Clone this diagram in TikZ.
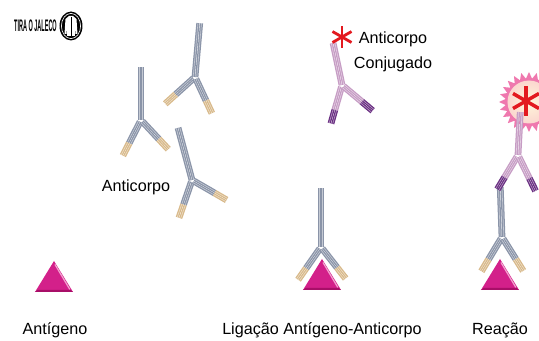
\documentclass[tikz,border=0pt]{standalone}
\usepackage{fontspec}
\setmainfont{Liberation Sans}
\usepackage{graphicx}

\definecolor{abgrey}{HTML}{8A94A8}
\definecolor{abtan}{HTML}{D8B98A}
\definecolor{abpink}{HTML}{C69CC4}
\definecolor{abpurple}{HTML}{6A2F82}
\definecolor{agmagenta}{HTML}{D3208A}
\definecolor{agdark}{HTML}{A80F68}
\definecolor{aglight}{HTML}{F2A3CF}
\definecolor{burstpink}{HTML}{EF78AE}
\definecolor{burstcore}{HTML}{FFF6DA}
\definecolor{markred}{HTML}{E3191F}

\tikzset{
  chain/.style={line width=1.8pt, draw=#1,
    postaction={draw=white, draw opacity=.5, line width=.35pt}},
  labeltext/.style={font=\fontsize{9.2}{14.7}\selectfont, inner sep=0pt},
  % stem length, left and right arm angles, body and tip colours
  pics/antibody/.style n args={5}{code={
    \foreach \s in {-1.8,1.8}
      \draw[chain=#4] (\s,0) -- (\s,-#1);
    \foreach \a in {-#2,#3}
      \foreach \s in {-1.8,1.8} {
        \draw[chain=#4, rotate=\a] (\s,2) -- (\s,26);
        \draw[chain=#5, rotate=\a] (\s,26) -- (\s,40);
      }
  }},
  pics/antigen/.style={code={
    \fill[agmagenta] (-19,0) -- (0,-31) -- (19,0) -- cycle;
    \fill[agdark] (-19,0) -- (19,0) -- (16.5,-2) -- (-16.5,-2) -- cycle;
    \draw[aglight, line width=.7pt] (1,-27.5) -- (15.8,-2.6);
  }},
  pics/asterisk/.style 2 args={code={
    \foreach \a in {90,150,210}
      \draw[markred, line width=#2] (\a:#1) -- (\a+180:#1);
  }},
}

\begin{document}
\begin{tikzpicture}[x=0.02cm, y=-0.02cm]
\useasboundingbox (0,0) rectangle (539,341);

%LOGO
  \node (logo) at (35.5,32) [anchor=base, inner sep=0pt,
    font=\fontsize{9.5}{10}\selectfont\bfseries] {\scalebox{0.33}[1]{TIRA O JALECO}};
  \fill (71,26) ellipse [x radius=11.5, y radius=14.5];
  \draw[white, line width=.35pt] (71,26) ellipse [x radius=9.6, y radius=12.6];
  \fill[white] (69,16) -- (73,16) -- (76.5,19) -- (77.5,34) -- (75.5,34) -- (74.8,25)
    -- (74.8,36) -- (67.2,36) -- (67.2,25) -- (66.5,34) -- (64.5,34) -- (65.5,19) -- cycle;
  \draw[line width=.3pt] (71,17) -- (71,36);

%ANTIGENO
  \pic at (54,292) {antigen};
  \node (antigeno) at (55,335) [labeltext, anchor=base] {Antígeno};

%ANTICORPOS
  \pic at (141,120) {antibody={53}{27}{43}{abgrey}{abtan}};
  \pic[rotate=-5] at (195,77) {antibody={54}{43}{30}{abgrey}{abtan}};
  \pic[rotate=15] at (192,180) {antibody={54}{34}{45}{abgrey}{abtan}};
  \node (anticorpo) at (136,192) [labeltext, anchor=base] {Anticorpo};

%CONJUGADO
  \pic[rotate=12] at (342,85) {antibody={43}{28}{38}{abpink}{abpurple}};
  \pic at (342,37) {asterisk={11}{1.6pt}};
  \node (conjugado) at (393,31) [labeltext, anchor=north, align=center] {Anticorpo\\Conjugado};

%LIGACAO
  \pic at (321,247) {antibody={59}{35}{38}{abgrey}{abtan}};
  \pic at (322,290) {antigen};
  \node (ligacao) at (322,335) [labeltext, anchor=base] {Ligação Antígeno-Anticorpo};

%REACAO
\begin{scope}
  \clip (0,0) rectangle (539,341);
  \begin{scope}[shift={(529,102)}]
    \fill[burstpink] (0:30) \foreach \i in {0,...,23} { -- (\i*15+7.5:23.5) -- (\i*15+15:30) } -- cycle;
    \shade[inner color=burstcore, outer color=burstcore!75!burstpink] (0,0) circle [radius=21.5];
  \end{scope}
\end{scope}
  \pic[rotate=2] at (502,237) {antibody={50}{33}{30}{abgrey}{abtan}};
  \pic at (500,290) {antigen};
  \pic[rotate=-3] at (518,155) {antibody={43}{28}{29}{abpink}{abpurple}};
  \pic at (526,101) {asterisk={15}{2pt}};
  \node (reacao) at (500,335) [labeltext, anchor=base] {Reação};
\end{tikzpicture}
\end{document}
